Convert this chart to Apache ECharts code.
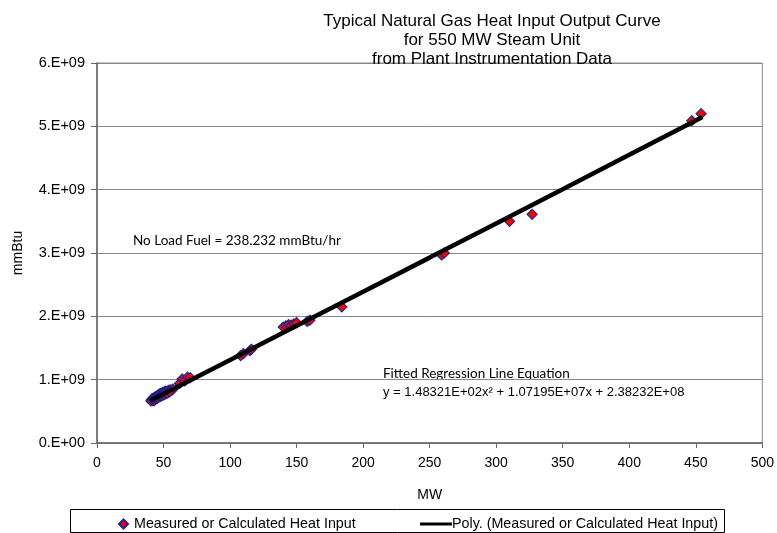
<!DOCTYPE html>
<html><head><meta charset="utf-8">
<script src="https://cdn.jsdelivr.net/npm/echarts@6/dist/echarts.min.js"></script>
<style>html,body{margin:0;padding:0;background:#fff}#c{width:777px;height:533px}</style>
</head><body><div id="c"></div>
<script>
// Measured points: [MW, heat input (mmBtu)]
const measuredMW = [41,41.5,42,42,42.5,43,43,43.5,44,44,44.5,45,45,45.5,46,46,46.5,47,47,47.5,48,48.5,49,49.5,50,50.5,51,51.5,52,53,53.5,54,55,56,57,
  40.5,41.5,42.5,43.5,44.5,45.5,46.5,47.5,48.5,49.5,50.5,51.5,52.5,54.5,
  62,64,66,68,70,
  108,110,115,116,140,142,144,146,148,150,158,160,184,
  259,261,310,327,447,454];
const measuredHeat = [0.68e9,0.70e9,0.69e9,0.67e9,0.71e9,0.70e9,0.67e9,0.72e9,0.72e9,0.70e9,0.74e9,0.73e9,0.70e9,0.75e9,0.75e9,0.73e9,0.77e9,0.76e9,0.74e9,0.78e9,0.78e9,0.76e9,0.79e9,0.80e9,0.80e9,0.78e9,0.81e9,0.82e9,0.80e9,0.82e9,0.80e9,0.83e9,0.84e9,0.83e9,0.85e9,
  0.665e9,0.675e9,0.685e9,0.695e9,0.705e9,0.715e9,0.725e9,0.735e9,0.745e9,0.755e9,0.765e9,0.775e9,0.785e9,0.805e9,
  0.94e9,1.01e9,0.98e9,1.04e9,1.03e9,
  1.38e9,1.41e9,1.46e9,1.48e9,1.83e9,1.85e9,1.87e9,1.86e9,1.88e9,1.90e9,1.92e9,1.94e9,2.15e9,
  2.97e9,3.00e9,3.50e9,3.61e9,5.09e9,5.20e9];
// Polynomial trendline
const trendMW = [40,100,150,200,250,300,350,400,450,455];
const trendHeat = [0.667e9,1.312e9,1.850e9,2.388e9,2.927e9,3.467e9,4.008e9,4.550e9,5.092e9,5.146e9];
const xTicks = [0,50,100,150,200,250,300,350,400,450,500];
const yTickLabels = ['0.E+00','1.E+09','2.E+09','3.E+09','4.E+09','5.E+09','6.E+09'];

const chart = echarts.init(document.getElementById('c'), null, {renderer:'canvas'});
const F = '"Liberation Sans", Arial, sans-serif';
const seriesA = 'Measured or Calculated Heat Input';
const seriesB = 'Poly. (Measured or Calculated Heat Input)';
chart.setOption({
  animation:false,
  backgroundColor:'#fff',
  title:{
    text:'Typical Natural Gas Heat Input Output Curve\nfor 550 MW Steam Unit\nfrom Plant Instrumentation Data',
    left:487, top:7, textAlign:'center',
    textStyle:{fontFamily:F,fontSize:17,fontWeight:'normal',color:'#000',lineHeight:19}
  },
  grid:{left:97,right:13,top:63,bottom:90,show:true,borderColor:'#888',borderWidth:1},
  xAxis:{
    type:'value',min:0,max:500,interval:50,
    name:'MW',nameLocation:'middle',nameGap:45,
    nameTextStyle:{fontFamily:F,fontSize:14,color:'#000'},
    axisLine:{show:true,lineStyle:{color:'#666',width:1.5}},
    axisTick:{show:true,inside:false,length:5,lineStyle:{color:'#666'}},
    axisLabel:{fontFamily:F,fontSize:14,color:'#000',margin:13,
      formatter:v=>String(xTicks[Math.round(v/50)])},
    splitLine:{show:false}
  },
  yAxis:{
    type:'value',min:0,max:6e9,interval:1e9,
    name:'mmBtu',nameLocation:'middle',nameGap:72,nameRotate:90,
    nameTextStyle:{fontFamily:F,fontSize:14,color:'#000'},
    axisLine:{show:true,lineStyle:{color:'#666',width:1.5}},
    axisTick:{show:true,inside:false,length:6,lineStyle:{color:'#666'}},
    axisLabel:{fontFamily:F,fontSize:14.5,color:'#000',margin:12,
      formatter:v=>yTickLabels[Math.round(v/1e9)]},
    splitLine:{show:true,lineStyle:{color:'#888',width:1}}
  },
  legend:[{
    data:[{name:seriesA,icon:'diamond'}],
    left:113,top:512,itemWidth:9,itemHeight:9,itemGap:10,
    textStyle:{fontFamily:F,fontSize:14.3,color:'#000',padding:[0,0,0,1]}
  },{
    data:[{name:seriesB,icon:'rect'}],
    left:415,top:512,itemWidth:32,itemHeight:3,itemGap:2,
    textStyle:{fontFamily:F,fontSize:14.3,color:'#000',padding:[0,0,0,-5]}
  }],
  graphic:[
    {type:'rect',left:68,top:507,shape:{width:654,height:23},style:{fill:'none',stroke:'#000',lineWidth:1},z:-1},
    {type:'text',left:133,top:234,style:{text:'No Load Fuel = 238.232 mmBtu/hr',font:'13.5px Lato, "Open Sans", sans-serif',fill:'#000'}},
    {type:'text',left:383,top:367,style:{text:'Fitted Regression Line Equation',font:'13.5px Lato, "Open Sans", sans-serif',fill:'#000'}},
    {type:'text',left:383,top:386,style:{text:'y = 1.48321E+02x\u00b2 + 1.07195E+07x + 2.38232E+08',font:'13px "Liberation Sans", Arial, sans-serif',fill:'#000'}}
  ],
  series:[
    {name:seriesA,type:'scatter',symbol:'diamond',symbolSize:10,
      data:measuredMW.map((x,i)=>[x,measuredHeat[i]]),
      itemStyle:{color:'#ff0000',borderColor:'#22228a',borderWidth:1.2,opacity:1},z:2},
    {name:seriesB,type:'line',symbol:'none',smooth:false,
      data:trendMW.map((x,i)=>[x,trendHeat[i]]),
      lineStyle:{color:'#000',width:4.5},itemStyle:{color:'#000'},z:3}
  ]
});
</script></body></html>
